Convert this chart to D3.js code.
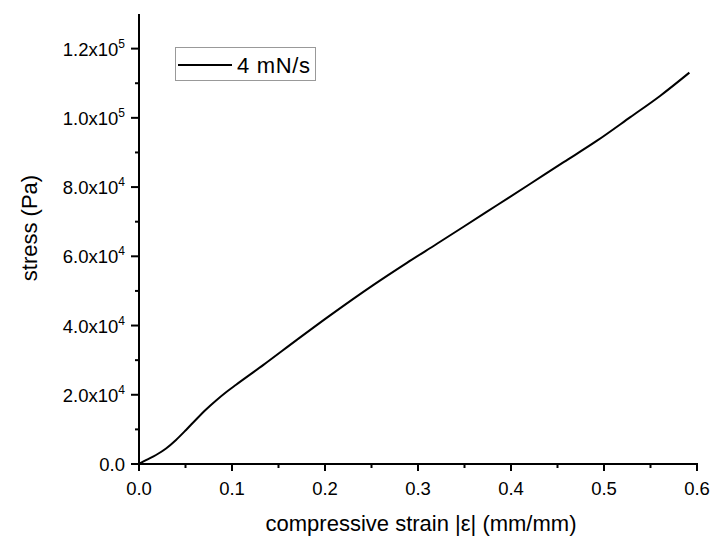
<!DOCTYPE html>
<html><head><meta charset="utf-8">
<script src="https://cdn.jsdelivr.net/npm/d3@7"></script>
<style>body{margin:0;background:#fff}svg{display:block}text{font-family:"Liberation Sans",Arial,sans-serif;fill:#000}</style>
</head><body><svg id="c" width="711" height="539"></svg>
<script>
const strain = [0,0.0075,0.0183,0.0291,0.0398,0.0506,0.0614,0.0721,0.0829,0.0936,0.1044,0.1338,0.1697,0.2055,0.2522,0.2881,0.3204,0.3490,0.3849,0.4208,0.4566,0.4925,0.5283,0.5606,0.5918];
const stress = [0,1100,2600,4480,6940,9830,12870,15760,18360,20730,22900,28630,35860,42940,51760,58120,63620,68530,74750,80970,87190,93400,100200,106400,113060];
const xTicks = [0,0.1,0.2,0.3,0.4,0.5,0.6];
const xMinor = [0.05,0.15,0.25,0.35,0.45,0.55];
const yTicks = [0,20000,40000,60000,80000,100000,120000];
const yMinor = [10000,30000,50000,70000,90000,110000];
const yLabels = [["0.0",""],["2.0x10","4"],["4.0x10","4"],["6.0x10","4"],["8.0x10","4"],["1.0x10","5"],["1.2x10","5"]];
const seriesName = "4 mN/s";

const svg = d3.select("#c");
const m = {l:139,t:14,r:14,b:75};
const W = 711, H = 539;
const x = d3.scaleLinear().domain([0,0.6]).range([m.l, W-m.r]);
const y = d3.scaleLinear().domain([0,130000]).range([H-m.b, m.t]);

// x axis
const gx = svg.append("g").attr("transform",`translate(0,${H-m.b})`);
gx.append("line").attr("x1",x(0)-1).attr("x2",x(0.6)+1).attr("stroke","#000").attr("stroke-width",2);
gx.selectAll(".mj").data(xTicks).join("line").attr("x1",d=>x(d)).attr("x2",d=>x(d)).attr("y1",0).attr("y2",7).attr("stroke","#000").attr("stroke-width",2);
gx.selectAll(".mn").data(xMinor).join("line").attr("x1",d=>x(d)).attr("x2",d=>x(d)).attr("y1",0).attr("y2",4).attr("stroke","#000").attr("stroke-width",2);
gx.selectAll("text").data(xTicks).join("text").attr("x",d=>x(d)).attr("y",31).attr("text-anchor","middle").attr("font-size",18.5).text(d=>d.toFixed(1));

// y axis
const gy = svg.append("g").attr("transform",`translate(${m.l},0)`);
gy.append("line").attr("y1",y(0)+1).attr("y2",y(130000)).attr("stroke","#000").attr("stroke-width",2);
gy.selectAll(".mj").data(yTicks).join("line").attr("y1",d=>y(d)).attr("y2",d=>y(d)).attr("x1",0).attr("x2",-8).attr("stroke","#000").attr("stroke-width",2);
gy.selectAll(".mn").data(yMinor).join("line").attr("y1",d=>y(d)).attr("y2",d=>y(d)).attr("x1",0).attr("x2",-4).attr("stroke","#000").attr("stroke-width",2);
const yl = gy.selectAll("text").data(yTicks).join("text").attr("x",-14).attr("y",d=>y(d)+7).attr("text-anchor","end").attr("font-size",18.5);
yl.each(function(d,i){
  const t = d3.select(this);
  t.append("tspan").text(yLabels[i][0]);
  if (yLabels[i][1]) t.append("tspan").attr("dy",-8).attr("font-size",12).text(yLabels[i][1]);
});

// titles
svg.append("text").attr("x",421).attr("y",531).attr("text-anchor","middle").attr("font-size",22).text("compressive strain |ε| (mm/mm)");
svg.append("text").attr("transform","translate(37,228) rotate(-90)").attr("text-anchor","middle").attr("font-size",22).text("stress (Pa)");

// curve
const pts = strain.map((s,i)=>[s,stress[i]]);
svg.append("path").datum(pts).attr("fill","none").attr("stroke","#000").attr("stroke-width",2)
  .attr("d", d3.line().x(d=>x(d[0])).y(d=>y(d[1])).curve(d3.curveMonotoneX));

// legend
const lg = svg.append("g");
lg.append("rect").attr("x",175.5).attr("y",47.5).attr("width",140).attr("height",33).attr("fill","#fff").attr("stroke","#999").attr("stroke-width",1);
lg.append("line").attr("x1",178).attr("x2",232).attr("y1",65).attr("y2",65).attr("stroke","#000").attr("stroke-width",2);
lg.append("text").attr("x",237).attr("y",73).attr("font-size",22).attr("textLength",73).text(seriesName);
</script></body></html>
